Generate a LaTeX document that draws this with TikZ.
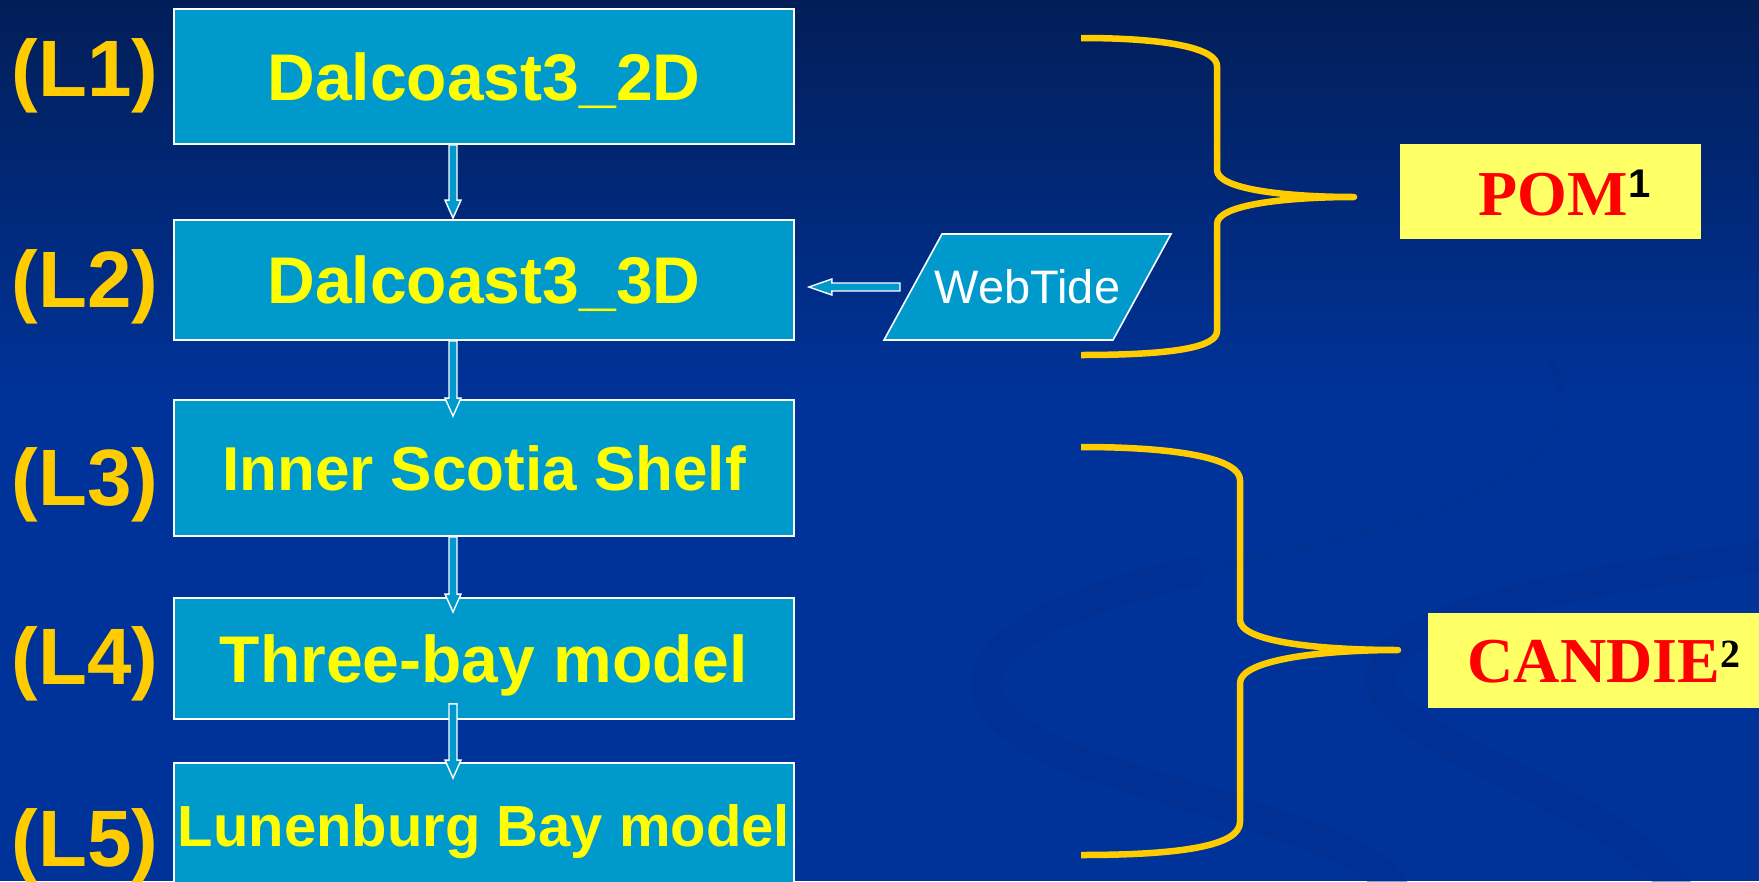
\documentclass[tikz,border=0pt]{standalone}
\usepackage{fontspec}
\setmainfont{Liberation Serif}
\newfontfamily\arialfont{Liberation Sans}
\usetikzlibrary{calc}
\definecolor{boxblue}{RGB}{0,153,204}
\definecolor{bgtop}{RGB}{2,30,88}
\definecolor{bgmid}{RGB}{0,51,153}
\definecolor{swirlc}{RGB}{0,45,140}
\definecolor{labgold}{RGB}{255,204,0}
\definecolor{txtyellow}{RGB}{255,255,0}
\definecolor{paleyellow}{RGB}{255,255,102}
\definecolor{pomred}{RGB}{255,0,0}
\tikzset{
 modelbox/.style={draw=white, line width=1.8pt, fill=boxblue, inner sep=0pt, minimum width=620pt,
   text=txtyellow, font=\arialfont\bfseries\fontsize{66}{70}\selectfont, text depth=0pt, text height=47pt},
 levellabel/.style={inner sep=0pt, text=labgold, font=\arialfont\bfseries\fontsize{80}{84}\selectfont,
   text height=57pt, text depth=0pt},
 blockarrow/.style={draw=white, line width=1.4pt, fill=boxblue, line join=miter},
 bracestyle/.style={draw=labgold, line width=6.5pt, line join=round},
 namebox/.style={fill=paleyellow, inner sep=0pt, text=pomred, font=\bfseries\fontsize{64}{68}\selectfont,
   text depth=0pt, minimum height=95pt},
 swirl/.style={draw=swirlc, opacity=0.45},
 paral/.style={draw=white, line width=1.6pt, fill=boxblue},
 tidetext/.style={inner sep=0pt, text=white, font=\arialfont\fontsize{47}{50}\selectfont, text height=33.5pt, text depth=0pt}
}
\newcommand\vblockarrow[2]{%
 \draw[blockarrow] ($(#1)+(-4,0)$) -- ($(#2)+(-4,-18)$) -- ($(#2)+(-8,-18)$) -- (#2)
   -- ($(#2)+(8,-18)$) -- ($(#2)+(4,-18)$) -- ($(#1)+(4,0)$) -- cycle;}
\newcommand\hblockarrow[2]{%
 \draw[blockarrow] ($(#1)+(0,-4)$) -- ($(#2)+(23,-4)$) -- ($(#2)+(23,-8)$) -- (#2)
   -- ($(#2)+(23,8)$) -- ($(#2)+(23,4)$) -- ($(#1)+(0,4)$) -- cycle;}
\begin{document}
\begin{tikzpicture}[x=1pt,y=-1pt]
\useasboundingbox (0,0) rectangle (1759,881);
\clip (0,0) rectangle (1759,881);
% background
\fill[top color=bgtop, bottom color=bgmid] (0,0) rectangle (1759,400);
\fill[bgmid] (0,399) rectangle (1759,881);
% faint swirls
\draw[swirl, line width=8pt, opacity=0.25] (1552,362) .. controls (1600,470) and (1450,520) .. (1200,570);
\draw[swirl, line width=30pt] (1200,570) .. controls (930,630) and (930,720) .. (1120,775)
   .. controls (1300,830) and (1370,850) .. (1395,890);
\draw[swirl, line width=30pt] (1770,555) .. controls (1560,585) and (1385,615) .. (1380,680)
   .. controls (1390,745) and (1600,790) .. (1680,890);
% model boxes
\node[modelbox, minimum height=135pt] (l1) at (484,76.5) {Dalcoast3\_2D};
\node[modelbox, minimum height=120pt] (l2) at (484,280) {Dalcoast3\_3D};
\node[modelbox, minimum height=136pt, font=\arialfont\bfseries\fontsize{62}{66}\selectfont, text height=44.4pt] (l3) at (484,468) {Inner Scotia Shelf};
\node[modelbox, minimum height=121pt] (l4) at (484,658.5) {Three-bay model};
\node[modelbox, minimum height=126pt, font=\arialfont\bfseries\fontsize{58}{62}\selectfont, text height=41.5pt] (l5) at (484,826) {Lunenburg Bay model};
% level labels
\node[levellabel] (n1) at (85,67.5) {(L1)};
\node[levellabel] (n2) at (85,278.5) {(L2)};
\node[levellabel] (n3) at (85,476.5) {(L3)};
\node[levellabel] (n4) at (85,656) {(L4)};
\node[levellabel] (n5) at (85,837.5) {(L5)};
% arrows between levels
\coordinate (a1s) at ($(l1.south)+(-31,0)$);
\coordinate (a1e) at ($(l2.north)+(-31,-1)$);
\coordinate (a2s) at ($(l2.south)+(-31,0)$);
\coordinate (a2e) at ($(l3.north)+(-31,17)$);
\coordinate (a3s) at ($(l3.south)+(-31,0)$);
\coordinate (a3e) at ($(l4.north)+(-31,15)$);
\coordinate (a4s) at ($(l4.south)+(-31,-16)$);
\coordinate (a4e) at ($(l5.north)+(-31,16)$);
\vblockarrow{a1s}{a1e}
\vblockarrow{a2s}{a2e}
\vblockarrow{a3s}{a3e}
\vblockarrow{a4s}{a4e}
% WebTide
\coordinate (wtc) at (1027.5,287);
\draw[paral] ($(wtc)+(-143.5,53)$) -- ($(wtc)+(-85.5,-53)$) -- ($(wtc)+(143.5,-53)$) -- ($(wtc)+(85.5,53)$) -- cycle;
\node[tidetext] (wt) at (wtc) {WebTide};
\coordinate (wts) at ($(wt.center)+(-127.5,0)$);
\coordinate (wte) at ($(l2.east |- wt.center)+(14,0)$);
\hblockarrow{wts}{wte}
% braces
\draw[bracestyle] (1081,38) .. controls (1175,38) and (1217,50) .. (1217,66) -- (1217,170)
  .. controls (1217,190) and (1290,197) .. (1354,197)
  .. controls (1290,197) and (1217,204) .. (1217,224) -- (1217,331)
  .. controls (1217,347) and (1175,355) .. (1081,355);
\draw[bracestyle] (1081,447) .. controls (1185,447) and (1240,460) .. (1240,480) -- (1240,620)
  .. controls (1240,642) and (1320,650) .. (1398,650)
  .. controls (1320,650) and (1240,660) .. (1240,683) -- (1240,822)
  .. controls (1240,845) and (1185,855) .. (1081,855);
% model family boxes
\node[namebox, minimum width=301pt, text height=47pt] (pom) at (1550.5,191.5)
  {\hspace*{28pt}POM\raisebox{18pt}{\color{black}\arialfont\bfseries\fontsize{40}{40}\selectfont 1}};
\node[namebox, minimum width=352pt, text height=43pt] (candie) at (1604,660.5)
  {CANDIE\raisebox{15pt}{\color{black}\bfseries\fontsize{40}{40}\selectfont 2}};
\end{tikzpicture}
\end{document}
